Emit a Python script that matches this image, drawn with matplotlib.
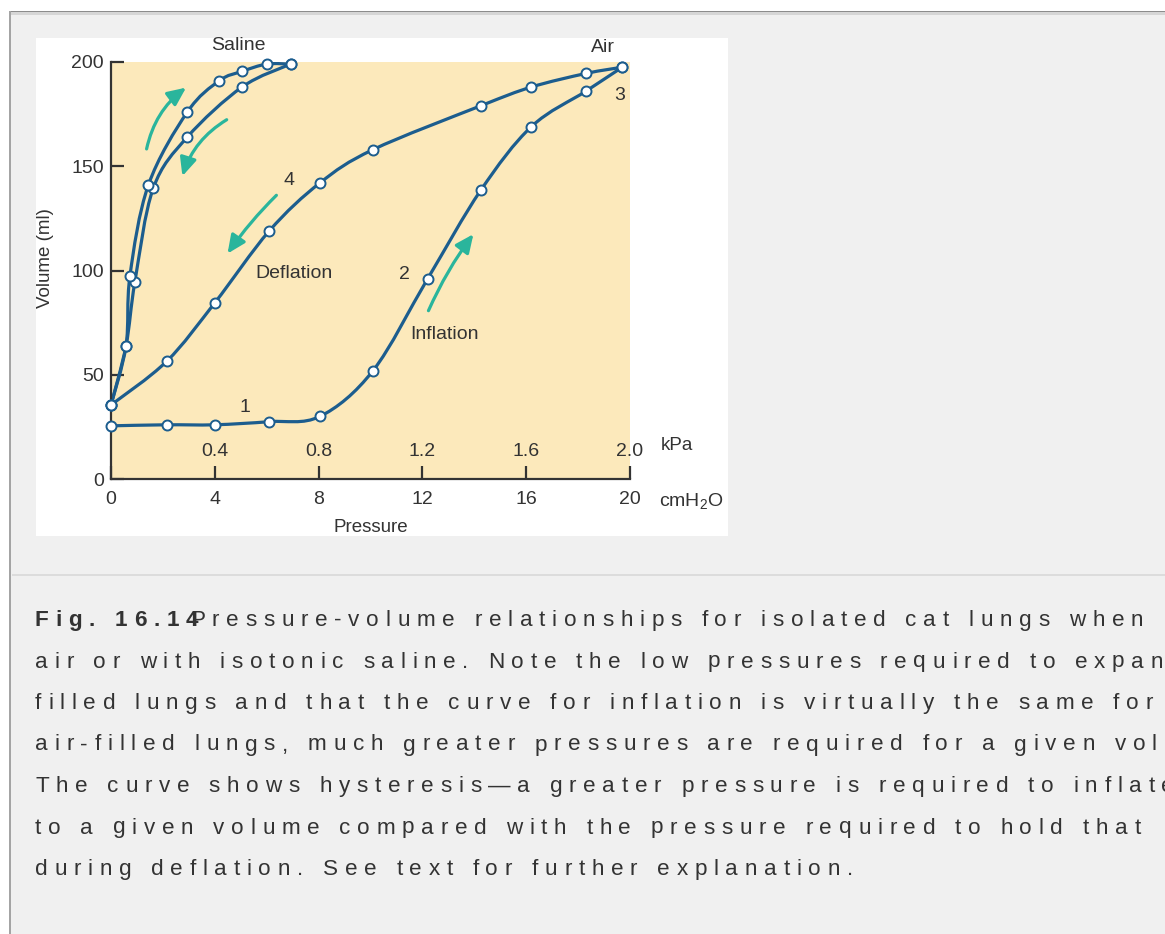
import matplotlib
matplotlib.use('Agg')
import matplotlib.pyplot as plt
from matplotlib.patches import Rectangle, FancyArrowPatch, PathPatch
from matplotlib.path import Path
from matplotlib.font_manager import FontProperties, findfont, get_font
import numpy as np

plt.rcParams['font.family'] = ['Liberation Sans', 'DejaVu Sans']
plt.rcParams['mathtext.default'] = 'regular'

# pressure in cmH2O, volume in ml
air_infl_p = [0, 2.15, 4.0, 6.1, 8.05, 10.1, 12.2, 14.25, 16.2, 18.3, 19.7]
air_infl_v = [25.5, 26, 26, 27.5, 30, 52, 96, 138.5, 169, 186, 197.5]
air_defl_p = [19.7, 18.3, 16.2, 14.25, 10.1, 8.05, 6.1, 4.0, 2.15, 0]
air_defl_v = [197.5, 194.5, 188, 179, 158, 142, 119, 84.5, 56.5, 35.5]
sal_up_p = [0, 0.58, 0.73, 1.44, 2.94, 4.17, 5.05, 6.0, 6.92]
sal_up_v = [35.5, 64, 97.5, 141, 176, 191, 195.5, 199, 199]
sal_dn_p = [0, 0.58, 0.92, 1.63, 2.94, 5.05, 6.92]
sal_dn_v = [35.5, 64, 94.5, 139.5, 164, 188, 199]

cm_ticks = [0, 4, 8, 12, 16, 20]
kpa_labels = ['0.4', '0.8', '1.2', '1.6', '2.0']
vol_ticks = [0, 50, 100, 150, 200]

# direction arrows: (tail, head, bend)
arrows = [((1.35, 157), (2.98, 188.5), -0.2),
          ((4.55, 173), (2.72, 144), 0.2),
          ((6.45, 137), (4.43, 107), 0.05),
          ((12.19, 79.5), (14.03, 118.5), -0.06)]

# curve labels: (x, y, text)
labels = [(4.9, 208, 'Saline'), (18.95, 207, 'Air'), (19.6, 184, '3'),
          (6.85, 143, '4'), (7.05, 98.5, 'Deflation'), (11.3, 98, '2'),
          (12.85, 69.5, 'Inflation'), (5.15, 34.5, '1')]

caption_head = 'Fig. 16.14'
caption_lines = [
    'Pressure-volume relationships for isolated cat lungs when',
    'air or with isotonic saline. Note the low pressures required to expand',
    'filled lungs and that the curve for inflation is virtually the same for',
    'air-filled lungs, much greater pressures are required for a given volume',
    'The curve shows hysteresis\u2014a greater pressure is required to inflate',
    'to a given volume compared with the pressure required to hold that',
    'during deflation. See text for further explanation.',
]

W, H = 1165, 934
line_col = '#1c5d8e'
arrow_col = '#2ab59c'
text_col = '#333333'
fs = 14

fig = plt.figure(figsize=(W / 100, H / 100), dpi=100, facecolor='#f0f0f0')


def box(x0, y0, x1, y1, color):
    # rectangle given in pixels from the top-left corner
    fig.add_artist(Rectangle((x0 / W, 1 - y1 / H), (x1 - x0) / W, (y1 - y0) / H,
                             transform=fig.transFigure, facecolor=color,
                             edgecolor='none', zorder=-5))


# page frame
box(0, 0, W, 11, 'white')
box(0, 0, 9, H, 'white')
box(9, 11, W, 12.5, '#8c8c8c')
box(9, 12.5, W, 15, '#d6d6d6')
box(9, 11, 11, H, '#a4a4a4')
box(36, 38, 728, 536, 'white')
box(12, 574, W, 576, '#dcdcdc')

ax = fig.add_axes([111 / W, 1 - 479 / H, (630 - 111) / W, (479 - 62) / H])
ax.set_facecolor('#fce9bb')
ax.set_xlim(0, 20)
ax.set_ylim(0, 200)
for s in ['top', 'right']:
    ax.spines[s].set_visible(False)
for s in ['left', 'bottom']:
    ax.spines[s].set_linewidth(1.6)
    ax.spines[s].set_color(text_col)
ax.set_xticks(cm_ticks)
ax.set_yticks(vol_ticks)
ax.tick_params(direction='in', length=9.5, width=1.6, color=text_col,
               labelcolor=text_col, labelsize=fs)
ax.tick_params(axis='x', pad=8.5)
ax.tick_params(axis='y', pad=5)


def smooth(px, py, **kw):
    # Catmull-Rom curve through the points, drawn as cubic Bezier segments
    pts = np.column_stack([px, py]).astype(float)
    ext = np.vstack([pts[0], pts, pts[-1]])
    verts = [pts[0]]
    codes = [Path.MOVETO]
    for i in range(1, len(ext) - 2):
        p0, p1, p2, p3 = ext[i - 1], ext[i], ext[i + 1], ext[i + 2]
        verts += [p1 + (p2 - p0) / 6, p2 - (p3 - p1) / 6, p2]
        codes += [Path.CURVE4] * 3
    ax.add_patch(PathPatch(Path(verts, codes), fill=False, edgecolor=line_col,
                           lw=2.3, capstyle='round', joinstyle='round', zorder=2))
    ax.plot(px, py, 'o', ms=7.2, mfc='white', mec=line_col, mew=1.4,
            zorder=3, clip_on=False)


smooth(sal_dn_p, sal_dn_v)
smooth(sal_up_p, sal_up_v)
smooth(air_defl_p, air_defl_v)
smooth(air_infl_p, air_infl_v)

for tail, head, rad in arrows:
    ax.add_patch(FancyArrowPatch(tail, head, connectionstyle=f'arc3,rad={rad}',
                                 arrowstyle='-|>,head_length=0.55,head_width=0.25',
                                 mutation_scale=20, lw=2.3, color=arrow_col,
                                 zorder=2))

for x, y, t in labels:
    ax.text(x, y, t, fontsize=fs, color=text_col, ha='center', va='center')

# kPa scale drawn above the cmH2O ticks
for x, t in zip(cm_ticks[1:], kpa_labels):
    ax.text(x, 0.067, t, transform=ax.get_xaxis_transform(), fontsize=fs,
            color=text_col, ha='center', va='center')
ax.text(21.2, 0.08, 'kPa', transform=ax.get_xaxis_transform(), fontsize=fs - 0.5,
        color=text_col, ha='left', va='center', clip_on=False)
ax.text(21.1, -0.052, 'cmH$_2$O', transform=ax.get_xaxis_transform(),
        fontsize=fs, color=text_col, ha='left', va='center', clip_on=False)
ax.text(0.5, -0.1175, 'Pressure', transform=ax.transAxes, fontsize=fs - 0.5,
        color=text_col, ha='center', va='center')
ax.text(-0.127, 0.53, 'Volume (ml)', transform=ax.transAxes, rotation=90,
        fontsize=fs - 0.5, color=text_col, ha='center', va='center')

# caption with wide letter spacing, laid out one glyph at a time
cap_px = 22.5
track = 6.75


def spaced(x, y, s, weight='normal'):
    prop = FontProperties(family='Liberation Sans', weight=weight,
                          size=cap_px * 0.72)
    font = get_font(findfont(prop))
    for c in s:
        if x >= W - 2:
            break
        fig.text(x / W, 1 - y / H, c, fontproperties=prop, color=text_col,
                 ha='left', va='baseline')
        font.set_size(cap_px * 0.72, 100)
        x += font.load_char(ord(c)).linearHoriAdvance / 65536 + track


spaced(35, 626, caption_head, weight='bold')
for i, line in enumerate(caption_lines):
    spaced(190 if i == 0 else 35, 626 + 41.5 * i, line)

fig.savefig('out.png', dpi=100, facecolor=fig.get_facecolor())
